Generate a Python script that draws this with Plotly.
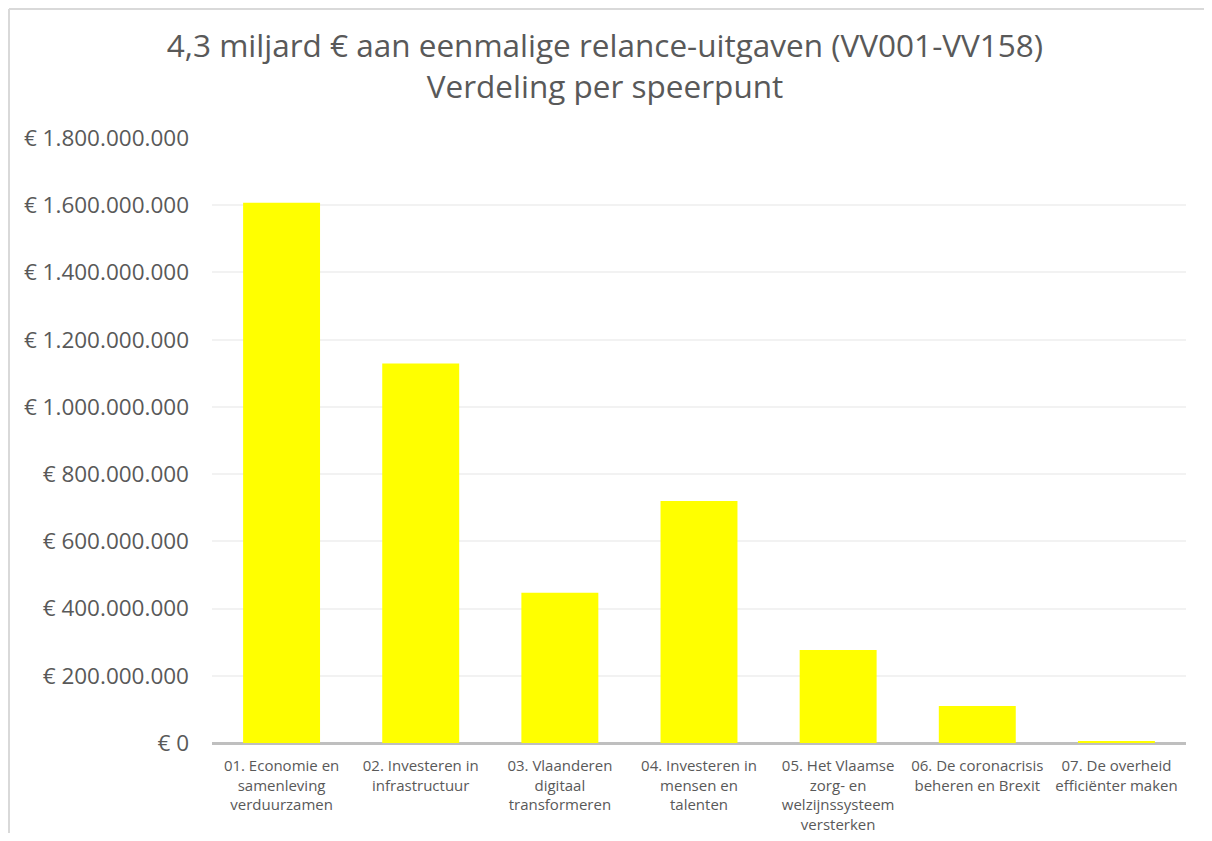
import plotly.graph_objects as go

categories = [
    "01. Economie en<br>samenleving<br>verduurzamen",
    "02. Investeren in<br>infrastructuur",
    "03. Vlaanderen<br>digitaal<br>transformeren",
    "04. Investeren in<br>mensen en<br>talenten",
    "05. Het Vlaamse<br>zorg- en<br>welzijnssysteem<br>versterken",
    "06. De coronacrisis<br>beheren en Brexit",
    "07. De overheid<br>efficiënter maken",
]
values = [1607000000, 1129000000, 447000000, 720000000, 277000000, 110000000, 6000000]

tick_vals = [0, 200000000, 400000000, 600000000, 800000000, 1000000000,
             1200000000, 1400000000, 1600000000, 1800000000]
tick_text = ["€ 0", "€ 200.000.000", "€ 400.000.000", "€ 600.000.000", "€ 800.000.000",
             "€ 1.000.000.000", "€ 1.200.000.000", "€ 1.400.000.000", "€ 1.600.000.000",
             "€ 1.800.000.000"]

title_text = "4,3 miljard € aan eenmalige relance-uitgaven (VV001-VV158)<br>Verdeling per speerpunt"

# page has an 8px body margin; figure sized to fit inside the window
OFF = 8
W, H = 1212 - 2 * OFF, 841 - 2 * OFF
ml, mr, mt, mb = 212 - OFF, W - (1186 - OFF), 138 - OFF, H - (743 - OFF)
pw, ph = W - ml - mr, H - mt - mb

def px_x(x):
    return (x - OFF - ml) / pw

def px_y(y):
    return (H - mb - (y - OFF)) / ph

fig = go.Figure(go.Bar(
    x=categories, y=values,
    marker=dict(color="#FFFF00", line=dict(width=0)),
    hoverinfo="x+y",
))

border = dict(color="#d9d9d9", width=2)
fig.update_layout(
    width=W, height=H,
    margin=dict(l=ml, r=mr, t=mt, b=mb, autoexpand=False),
    paper_bgcolor="white", plot_bgcolor="white",
    bargap=0.447,
    showlegend=False,
    title=dict(text=title_text, x=(605 - OFF) / W, xanchor="center", y=1 - 49 / H, yanchor="top",
               font=dict(family="Open Sans", size=31.5, color="#595959")),
    font=dict(family="Open Sans", color="#595959"),
    xaxis=dict(showgrid=False, showline=False, ticks="", automargin=False,
               tickfont=dict(family="Open Sans", size=15, color="#595959"),
               tickangle=0, fixedrange=True, ticklabelstandoff=12),
    yaxis=dict(range=[0, 1800000000], tickvals=tick_vals, ticktext=tick_text,
               showgrid=True, gridcolor="#f2f2f2", gridwidth=1.5, automargin=False,
               zeroline=True, zerolinecolor="#bfbfbf", zerolinewidth=3,
               showline=False, ticks="", ticklabelstandoff=22,
               tickfont=dict(family="Open Sans", size=22.5, color="#595959")),
    shapes=[
        dict(type="line", xref="paper", yref="paper",
             x0=px_x(OFF + 1), x1=px_x(1240), y0=px_y(OFF + 1), y1=px_y(OFF + 1),
             line=border, layer="below"),
        dict(type="line", xref="paper", yref="paper",
             x0=px_x(OFF + 1), x1=px_x(OFF + 1), y0=px_y(OFF + 1), y1=px_y(880),
             line=border, layer="below"),
    ],
)

fig.write_html("out.html")
